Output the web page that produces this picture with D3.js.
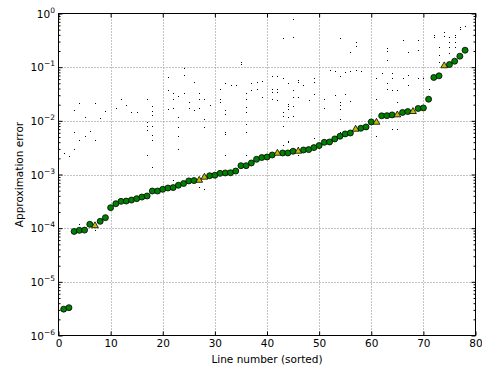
<!DOCTYPE html>
<html>
<head>
<meta charset="utf-8">
<script src="https://cdn.jsdelivr.net/npm/d3@7"></script>
<style>
  html, body { margin: 0; padding: 0; background: #fff; }
  svg { display: block; font-family: "DejaVu Sans", sans-serif; }
</style>
</head>
<body>
<div id="chart"></div>
<script>
// sorted approximation error per line (line 1..78)
const lineErr = [
  3.1e-6, 3.3e-6, 8.7e-5, 9.1e-5, 9.2e-5, 1.18e-4, 1.11e-4, 1.34e-4, 1.57e-4, 2.41e-4,
  2.86e-4, 3.16e-4, 3.2e-4, 3.34e-4, 3.55e-4, 3.8e-4, 3.98e-4, 4.92e-4, 4.92e-4, 5.3e-4,
  5.6e-4, 5.7e-4, 6.3e-4, 6.8e-4, 7.6e-4, 7.7e-4, 7.8e-4, 8.9e-4, 9.5e-4, 9.7e-4,
  1.05e-3, 1.07e-3, 1.08e-3, 1.16e-3, 1.46e-3, 1.46e-3, 1.64e-3, 1.92e-3, 2.07e-3, 2.12e-3,
  2.31e-3, 2.49e-3, 2.52e-3, 2.52e-3, 2.71e-3, 2.71e-3, 2.86e-3, 2.91e-3, 3.17e-3, 3.46e-3,
  3.98e-3, 4.04e-3, 4.6e-3, 5.16e-3, 5.7e-3, 5.94e-3, 6.97e-3, 7.27e-3, 7.7e-3, 9.55e-3,
  9.4e-3, 1.24e-2, 1.25e-2, 1.29e-2, 1.29e-2, 1.43e-2, 1.49e-2, 1.49e-2, 1.7e-2, 1.74e-2,
  2.53e-2, 6.43e-2, 6.9e-2, 0.106, 0.112, 0.129, 0.16, 0.207
];
// lines drawn with a yellow triangle instead of a green circle
const triangleLines = [7, 27, 28, 42, 46, 57, 61, 65, 68, 74];

// other (scattered) errors: [line, error]
const otherErr = [
  [1,0.00249],[2,0.00219],[3,0.016],[3,0.0062],[3,0.00304],[4,0.0219],[4,0.00448],[4,1.2e-4],
  [5,0.012],[5,0.00532],[6,0.0064],[7,0.0219],[7,0.00448],[7,9.1e-5],[8,0.0115],[9,0.0151],
  [11,0.0174],[12,0.025],[13,0.0201],[14,0.0145],[15,0.0145],[17,0.0256],[17,0.0097],[17,0.00793],
  [17,0.00689],[17,0.00228],[18,0.0193],[18,0.0153],[18,0.0127],[18,0.00793],[18,0.00539],
  [18,0.00434],[18,0.00138],[21,0.0643],[21,0.0372],[21,0.0165],[22,0.0332],[22,0.026],
  [22,0.0177],[22,8.0e-4],[23,0.0288],[23,0.0118],[23,0.0077],[23,0.00516],[23,0.00304],
  [24,0.097],[24,0.0718],[24,0.0337],[25,0.0222],[25,0.0177],[26,0.054],[26,0.016],[27,0.0332],
  [27,0.026],[27,0.0174],[27,5.8e-4],[28,0.025],[28,0.0108],[28,0.0077],[28,5.46e-4],[29,0.0195],
  [31,0.0384],[31,0.025],[31,0.0227],[32,0.051],[32,0.0158],[32,0.0135],[32,0.0062],[32,0.0058],
  [32,0.00228],[33,0.0461],[34,0.0461],[35,0.1256],[35,0.114],[36,0.0332],[36,0.0256],[36,0.0182],
  [36,0.0149],[36,0.0089],[36,0.00865],[36,0.0062],[36,0.00228],[37,0.0497],[37,0.0372],
  [38,0.0518],[38,0.0384],[39,0.0548],[39,0.0279],[41,0.0679],[41,0.0384],[41,0.0347],[41,0.025],
  [42,0.0679],[42,0.0384],[42,0.0347],[42,0.0242],[43,0.343],[43,0.0623],[43,0.0146],[43,0.0123],
  [43,0.00793],[43,0.0035],[44,0.0497],[44,0.021],[44,0.0188],[44,0.0163],[44,0.0118],[44,0.0043],
  [44,0.004],[45,0.796],[45,0.358],[45,0.0372],[45,0.0279],[45,0.0188],[45,0.0122],[46,0.0572],
  [46,0.0525],[46,0.0279],[46,0.0033],[46,0.00228],[47,0.0475],[48,0.0242],[49,0.0615],[49,0.0532],
  [49,0.031],[49,0.0047],[51,0.026],[51,0.0174],[52,0.088],[53,0.084],[53,0.0301],[54,0.343],
  [54,0.0679],[54,0.0227],[54,0.0195],[54,0.0169],[54,0.011],[54,0.0062],[55,0.0817],[55,0.031],
  [56,0.188],[56,0.084],[56,0.0236],[57,0.296],[57,0.25],[57,0.088],[58,0.0855],[61,0.0615],
  [61,0.025],[61,0.00516],[62,0.0763],[63,0.223],[63,0.204],[63,0.135],[63,0.051],[63,0.0399],
  [64,0.0763],[64,0.0615],[64,0.0372],[64,0.00718],[65,0.0372],[65,0.0227],[65,0.00718],
  [66,0.319],[66,0.0615],[67,0.193],[67,0.071],[67,0.0475],[69,0.319],[69,0.207],[69,0.0615],
  [70,0.0615],[71,0.0384],[72,0.395],[72,0.363],[73,0.239],[73,0.168],[73,0.125],[74,0.444],
  [74,0.38],[75,0.367],[75,0.296],[75,0.239],[75,0.18],[76,0.395],[76,0.363],[76,0.296],
  [76,0.239],[77,0.565],[77,0.505],[78,0.582]
];

const xTicks = [0, 10, 20, 30, 40, 50, 60, 70, 80];
const yExponents = [0, -1, -2, -3, -4, -5, -6];

const W = 482, H = 371;
const plot = { left: 58.5, right: 475.5, top: 13.5, bottom: 335.5 };

const svg = d3.select("#chart").append("svg")
  .attr("width", W)
  .attr("height", H);

const x = d3.scaleLinear().domain([0, 80]).range([plot.left, plot.right]);
const y = d3.scaleLog().domain([1e-6, 1]).range([plot.bottom, plot.top]);

const majorY = yExponents.map(e => Math.pow(10, e));
const minorY = [];
for (let e = -6; e < 0; e++) {
  for (let m = 2; m <= 9; m++) minorY.push(m * Math.pow(10, e));
}

// Grid (dotted, classic matplotlib)
const grid = svg.append("g").attr("class", "grid")
  .attr("stroke", "#888")
  .attr("stroke-width", 1)
  .attr("stroke-dasharray", "1,2");
grid.selectAll("line.gx")
  .data(xTicks.slice(1, -1))
  .enter().append("line")
  .attr("x1", d => Math.round(x(d)) + 0.5).attr("x2", d => Math.round(x(d)) + 0.5)
  .attr("y1", plot.top).attr("y2", plot.bottom);
grid.selectAll("line.gy")
  .data(majorY.slice(1, -1))
  .enter().append("line")
  .attr("x1", plot.left).attr("x2", plot.right)
  .attr("y1", d => Math.round(y(d)) + 0.5).attr("y2", d => Math.round(y(d)) + 0.5);

// Scattered pixel dots
svg.append("g")
  .selectAll("rect")
  .data(otherErr)
  .enter().append("rect")
  .attr("x", d => Math.round(x(d[0])))
  .attr("y", d => Math.round(y(d[1])))
  .attr("width", 1)
  .attr("height", 1)
  .attr("fill", "#000");

// Green circles
const points = lineErr.map((v, i) => ({ line: i + 1, err: v }));
svg.append("g")
  .selectAll("circle")
  .data(points.filter(d => !triangleLines.includes(d.line)))
  .enter().append("circle")
  .attr("cx", d => x(d.line))
  .attr("cy", d => y(d.err))
  .attr("r", 3)
  .attr("fill", "#008000")
  .attr("stroke", "#000")
  .attr("stroke-width", 0.8);

// Yellow triangles
const tri = d3.symbol().type(d3.symbolTriangle).size(20);
svg.append("g")
  .selectAll("path")
  .data(points.filter(d => triangleLines.includes(d.line)))
  .enter().append("path")
  .attr("d", tri)
  .attr("transform", d => `translate(${x(d.line)},${y(d.err)})`)
  .attr("fill", "#bfbf00")
  .attr("stroke", "#000")
  .attr("stroke-width", 0.8);

// Axes with inward ticks
function styleAxis(g) {
  g.select(".domain").remove();
  g.selectAll(".tick line").attr("stroke", "#000").attr("stroke-width", 1);
}

const bottomAxis = svg.append("g")
  .attr("transform", `translate(0,${plot.bottom})`)
  .call(d3.axisBottom(x).tickValues(xTicks).tickSize(-4).tickPadding(4).tickFormat(d3.format("d")));
styleAxis(bottomAxis);
bottomAxis.selectAll("text").attr("font-size", 10.5).attr("fill", "#000")
  .attr("font-family", "DejaVu Sans");

const topAxis = svg.append("g")
  .attr("transform", `translate(0,${plot.top})`)
  .call(d3.axisTop(x).tickValues(xTicks).tickSize(-4).tickFormat(""));
styleAxis(topAxis);

const leftAxis = svg.append("g")
  .attr("transform", `translate(${plot.left},0)`)
  .call(d3.axisLeft(y).tickValues(majorY).tickSize(-4).tickFormat(""));
styleAxis(leftAxis);
const leftMinor = svg.append("g")
  .attr("transform", `translate(${plot.left},0)`)
  .call(d3.axisLeft(y).tickValues(minorY).tickSize(-2).tickFormat(""));
styleAxis(leftMinor);

const rightAxis = svg.append("g")
  .attr("transform", `translate(${plot.right},0)`)
  .call(d3.axisRight(y).tickValues(majorY).tickSize(-4).tickFormat(""));
styleAxis(rightAxis);
const rightMinor = svg.append("g")
  .attr("transform", `translate(${plot.right},0)`)
  .call(d3.axisRight(y).tickValues(minorY).tickSize(-2).tickFormat(""));
styleAxis(rightMinor);

// Y tick labels as 10^n with superscript
const yLabels = svg.append("g")
  .selectAll("text")
  .data(yExponents)
  .enter().append("text")
  .attr("x", 55)
  .attr("y", d => y(Math.pow(10, d)) + 4)
  .attr("text-anchor", "end")
  .attr("font-size", 10.5)
  .attr("fill", "#000");
yLabels.append("tspan").text("10");
yLabels.append("tspan")
  .attr("dy", -5)
  .attr("font-size", 7.5)
  .text(d => d === 0 ? "0" : "\u2212" + Math.abs(d));

// Frame
svg.append("rect")
  .attr("x", plot.left).attr("y", plot.top)
  .attr("width", plot.right - plot.left)
  .attr("height", plot.bottom - plot.top)
  .attr("fill", "none")
  .attr("stroke", "#000")
  .attr("stroke-width", 1);

// Axis titles
svg.append("text")
  .attr("x", (plot.left + plot.right) / 2)
  .attr("y", 363)
  .attr("text-anchor", "middle")
  .attr("font-size", 10.5)
  .text("Line number (sorted)");

svg.append("text")
  .attr("transform", `translate(23,${(plot.top + plot.bottom) / 2}) rotate(-90)`)
  .attr("text-anchor", "middle")
  .attr("font-size", 10.5)
  .text("Approximation error");
</script>
</body>
</html>
